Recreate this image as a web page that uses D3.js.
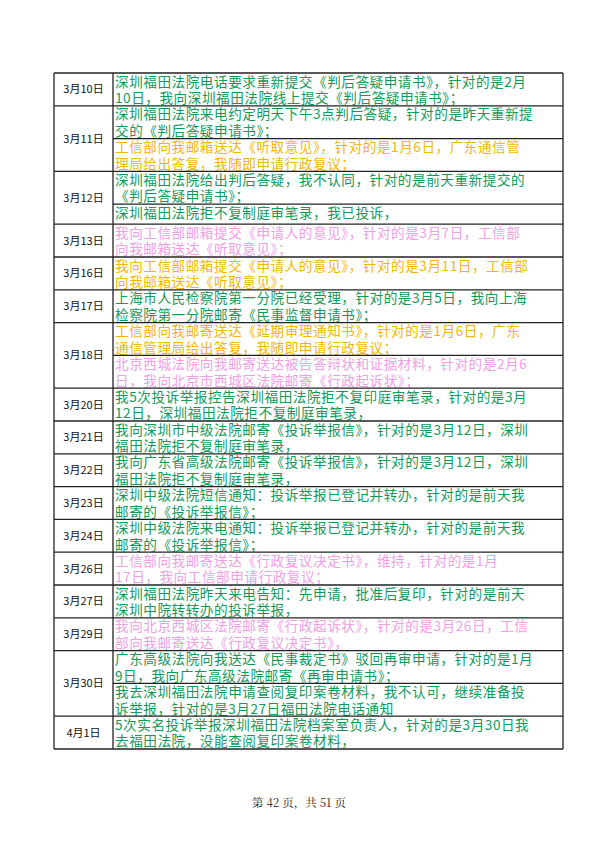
<!DOCTYPE html>
<html><head><meta charset="utf-8">
<script src="https://cdn.jsdelivr.net/npm/d3@7"></script>
<style>body{margin:0;background:#fff}</style></head>
<body><svg id="c" width="599" height="848"></svg>
<script>
const dates = ["3月10日","3月11日","3月12日","3月13日","3月16日","3月17日","3月18日","3月20日","3月21日","3月22日","3月23日","3月24日","3月26日","3月27日","3月29日","3月30日","4月1日"];
const entries = [
 [["g",["深圳福田法院电话要求重新提交《判后答疑申请书》，针对的是2月","10日，我向深圳福田法院线上提交《判后答疑申请书》；"]]],
 [["g",["深圳福田法院来电约定明天下午3点判后答疑，针对的是昨天重新提","交的《判后答疑申请书》；"]],["o",["工信部向我邮箱送达《听取意见》，针对的是1月6日，广东通信管","理局给出答复，我随即申请行政复议；"]]],
 [["g",["深圳福田法院给出判后答疑，我不认同，针对的是前天重新提交的","《判后答疑申请书》；"]],["g",["深圳福田法院拒不复制庭审笔录，我已投诉，"]]],
 [["p",["我向工信部邮箱提交《申请人的意见》，针对的是3月7日，工信部","向我邮箱送达《听取意见》；"]]],
 [["o",["我向工信部邮箱提交《申请人的意见》，针对的是3月11日，工信部","向我邮箱送达《听取意见》；"]]],
 [["g",["上海市人民检察院第一分院已经受理，针对的是3月5日，我向上海","检察院第一分院邮寄《民事监督申请书》；"]]],
 [["o",["工信部向我邮寄送达《延期审理通知书》，针对的是1月6日，广东","通信管理局给出答复，我随即申请行政复议；"]],["p",["北京西城法院向我邮寄送达被告答辩状和证据材料，针对的是2月6","日，我向北京市西城区法院邮寄《行政起诉状》；"]]],
 [["g",["我5次投诉举报控告深圳福田法院拒不复印庭审笔录，针对的是3月","12日，深圳福田法院拒不复制庭审笔录，"]]],
 [["g",["我向深圳市中级法院邮寄《投诉举报信》，针对的是3月12日，深圳","福田法院拒不复制庭审笔录，"]]],
 [["g",["我向广东省高级法院邮寄《投诉举报信》，针对的是3月12日，深圳","福田法院拒不复制庭审笔录，"]]],
 [["g",["深圳中级法院短信通知：投诉举报已登记并转办，针对的是前天我","邮寄的《投诉举报信》；"]]],
 [["g",["深圳中级法院来电通知：投诉举报已登记并转办，针对的是前天我","邮寄的《投诉举报信》；"]]],
 [["p",["工信部向我邮寄送达《行政复议决定书》，维持，针对的是1月","17日，我向工信部申请行政复议；"]]],
 [["g",["深圳福田法院昨天来电告知：先申请，批准后复印，针对的是前天","深圳中院转转办的投诉举报，"]]],
 [["p",["我向北京西城区法院邮寄《行政起诉状》，针对的是3月26日，工信","部向我邮寄送达《行政复议决定书》，"]]],
 [["g",["广东高级法院向我送达《民事裁定书》驳回再审申请，针对的是1月","9日，我向广东高级法院邮寄《再审申请书》；"]],["g",["我去深圳福田法院申请查阅复印案卷材料，我不认可，继续准备投","诉举报，针对的是3月27日福田法院电话通知"]]],
 [["g",["5次实名投诉举报深圳福田法院档案室负责人，针对的是3月30日我","去福田法院，没能查阅复印案卷材料，"]]]
];
const colorKeys = ["g","o","p"];
const colorVals = ["#12995a","#f2b705","#f0a0e6"];
const footer = "第 42 页，共 51 页";

const svg = d3.select("#c");
const color = d3.scaleOrdinal().domain(colorKeys).range(colorVals);
const unit = l => l >= 2 ? 2 : 1.22;
let cum = 0; const rows = [];
entries.forEach((es, i) => {
  const start = cum; const subs = [];
  es.forEach(e => { subs.push({c:e[0], lines:e[1], y0:cum, y1:cum+unit(e[1].length)}); cum += unit(e[1].length); });
  rows.push({date:dates[i], y0:start, y1:cum, subs});
});
const y = d3.scaleLinear().domain([0, cum]).range([73, 749]);
const x0 = 54, x1 = 113, x2 = 563;
const defs = svg.append("defs");
let id = 0;
rows.forEach(r => {
  svg.append("text").attr("x",(x0+x1)/2).attr("y",(y(r.y0)+y(r.y1))/2+4)
    .attr("text-anchor","middle").attr("font-family","Noto Sans CJK SC").attr("font-size",11).attr("fill","#111").text(r.date);
  r.subs.forEach(s => {
    const cid = "cl"+(id++);
    defs.append("clipPath").attr("id",cid).append("rect").attr("x",x1).attr("y",y(s.y0)).attr("width",x2-x1).attr("height",y(s.y1)-y(s.y0));
    const g = svg.append("g").attr("clip-path",`url(#${cid})`);
    s.lines.forEach((t,k) => g.append("text").attr("x",x1+2).attr("y",y(s.y0)+13.5+k*16.6)
      .attr("font-family","Noto Sans CJK SC").attr("font-size",13.6).attr("letter-spacing",0.55).attr("fill",color(s.c)).text(t));
    svg.append("line").attr("x1",x1).attr("x2",x2).attr("y1",y(s.y1)).attr("y2",y(s.y1)).attr("stroke","#222").attr("stroke-width",1.3);
  });
  svg.append("line").attr("x1",x0).attr("x2",x1).attr("y1",y(r.y1)).attr("y2",y(r.y1)).attr("stroke","#222").attr("stroke-width",1.3);
});
svg.append("line").attr("x1",x0).attr("x2",x2).attr("y1",y(0)).attr("y2",y(0)).attr("stroke","#222").attr("stroke-width",1.3);
[x0,x1,x2].forEach(xx => svg.append("line").attr("x1",xx).attr("x2",xx).attr("y1",y(0)).attr("y2",y(cum)).attr("stroke","#222").attr("stroke-width",1.3));
svg.append("text").attr("x",299).attr("y",807).attr("text-anchor","middle").attr("font-family","Noto Serif CJK SC, Noto Sans CJK SC").attr("font-size",11.5).attr("fill","#222").text(footer);
</script></body></html>
